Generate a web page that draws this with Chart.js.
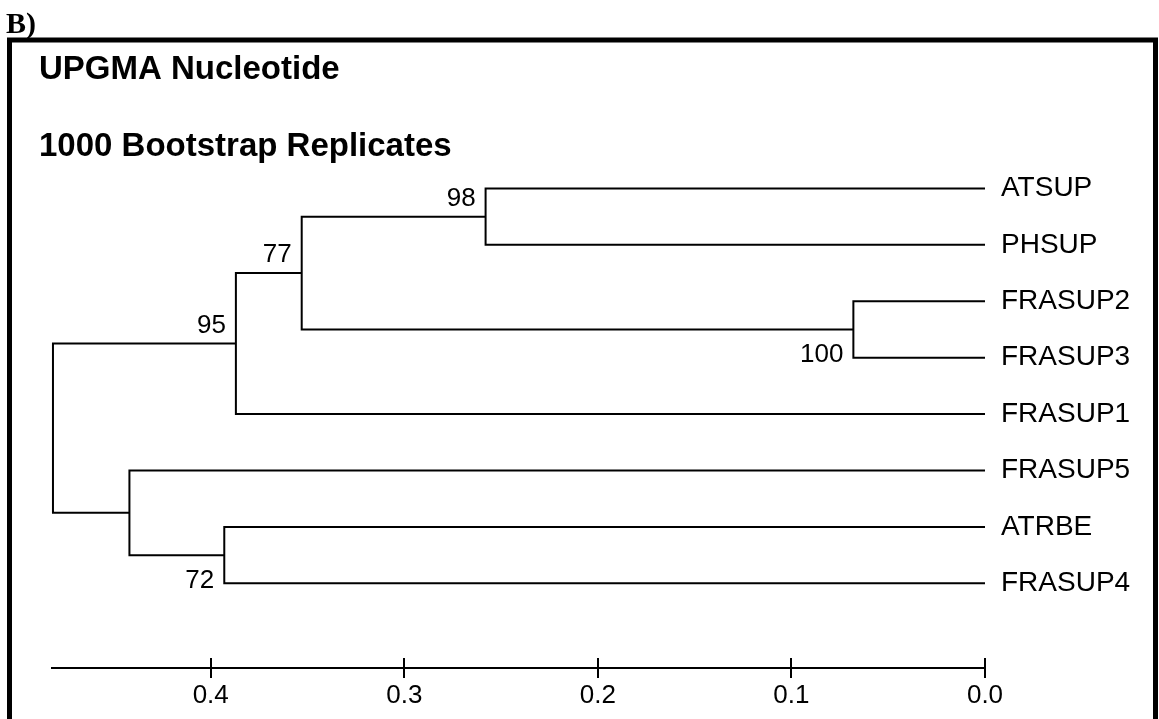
<!DOCTYPE html>
<html>
<head>
<meta charset="utf-8">
<title>UPGMA Nucleotide</title>
<script src="https://cdn.jsdelivr.net/npm/chart.js@4.4.1/dist/chart.umd.min.js"></script>
<style>
	html, body { margin: 0; padding: 0; background: #ffffff; }
	#canvas-wrap { width: 1159px; height: 719px; }
</style>
</head>
<body>
<div id="canvas-wrap"><canvas id="myChart" width="1159" height="719"></canvas></div>
<script>
// Feuilles de l'arbre (de haut en bas)
var leaves = ['ATSUP', 'PHSUP', 'FRASUP2', 'FRASUP3', 'FRASUP1', 'FRASUP5', 'ATRBE', 'FRASUP4'];

// Noeuds internes : indices des enfants (0..7 = feuilles, 8.. = noeuds internes)
var nodeChildren = [[0, 1], [2, 3], [8, 9], [10, 4], [6, 7], [5, 12], [11, 13]];

// Hauteur (distance) de chaque noeud interne
var nodeHeights = [0.258, 0.068, 0.353, 0.387, 0.393, 0.442, 0.4815];

// Valeurs de bootstrap (null = pas affichee)
var bootstrap = [98, 100, 77, 95, 72, null, null];

// Graduations de l'axe des distances
var tickValues = [0, 0.1, 0.2, 0.3, 0.4];

var titre = 'UPGMA Nucleotide';
var sousTitre = '1000 Bootstrap Replicates';
var panneau = 'B)';

//
// Position de chaque noeud : x = distance, y = rang
//
var posX = [];
var posY = [];
var parent = [];

leaves.forEach(function(nom, i) {
	posX[i] = 0;
	posY[i] = i;
});

nodeChildren.forEach(function(enfants, k) {
	var id = leaves.length + k;
	posX[id] = nodeHeights[k];
	posY[id] = (posY[enfants[0]] + posY[enfants[1]]) / 2;
	parent[enfants[0]] = {id: id, premier: true};
	parent[enfants[1]] = {id: id, premier: false};
});

// Un trace en "U" par noeud interne
var datasets = nodeChildren.map(function(enfants, k) {
	var id = leaves.length + k;
	var a = enfants[0], b = enfants[1];
	return {
		data: [
			{x: posX[a], y: posY[a]},
			{x: posX[id], y: posY[a]},
			{x: posX[id], y: posY[b]},
			{x: posX[b], y: posY[b]}
		],
		borderColor: '#000000',
		backgroundColor: '#000000',
		borderWidth: 2,
		pointRadius: 0,
		showLine: true,
		fill: false,
		tension: 0,
		clip: false
	};
});

var police = '"Liberation Sans", Arial, Helvetica, sans-serif';

var cadrePlugin = {
	id: 'cadre',
	beforeDraw: function(chart) {
		var ctx = chart.ctx;
		ctx.save();
		ctx.fillStyle = '#ffffff';
		ctx.fillRect(0, 0, chart.width, chart.height);

		// cadre
		ctx.strokeStyle = '#000000';
		ctx.lineWidth = 5;
		ctx.beginPath();
		ctx.moveTo(9.5, chart.height + 5);
		ctx.lineTo(9.5, 40);
		ctx.lineTo(1155.5, 40);
		ctx.lineTo(1155.5, chart.height + 5);
		ctx.stroke();

		// lettre du panneau
		ctx.fillStyle = '#000000';
		ctx.font = 'bold 30px "Liberation Serif", "Times New Roman", serif';
		ctx.textBaseline = 'alphabetic';
		ctx.textAlign = 'left';
		ctx.fillText(panneau, 6, 33);
		ctx.restore();
	},
	afterDraw: function(chart) {
		var ctx = chart.ctx;
		var sx = chart.scales.x;
		var sy = chart.scales.y;
		ctx.save();
		ctx.fillStyle = '#000000';

		// titres
		ctx.font = 'bold 33px ' + police;
		ctx.textAlign = 'left';
		ctx.textBaseline = 'alphabetic';
		ctx.fillText(titre, 39, 79);
		ctx.fillText(sousTitre, 39, 156);

		// moitie haute des graduations
		ctx.strokeStyle = '#000000';
		ctx.lineWidth = 2;
		sx.ticks.forEach(function(t) {
			var px = Math.round(sx.getPixelForValue(t.value));
			ctx.beginPath();
			ctx.moveTo(px, chart.chartArea.bottom - 10);
			ctx.lineTo(px, chart.chartArea.bottom);
			ctx.stroke();
		});

		// valeurs de bootstrap
		ctx.font = '26px ' + police;
		ctx.textAlign = 'right';
		nodeChildren.forEach(function(enfants, k) {
			if (bootstrap[k] === null) return;
			var id = leaves.length + k;
			var px = sx.getPixelForValue(posX[id]);
			var py = sy.getPixelForValue(posY[id]);
			var p = parent[id];
			if (p && p.premier) {
				ctx.fillText(String(bootstrap[k]), px - 10, py - 11);
			} else {
				ctx.fillText(String(bootstrap[k]), px - 10, py + 33);
			}
		});
		ctx.restore();
	}
};

var ctx = document.getElementById('myChart').getContext('2d');

var arbre = new Chart(ctx, {
	type: 'scatter',
	data: { datasets: datasets },
	options: {
		responsive: false,
		animation: false,
		devicePixelRatio: 1,
		layout: {
			padding: {left: 52, top: 132, right: 0, bottom: 0}
		},
		scales: {
			x: {
				type: 'linear',
				position: 'bottom',
				reverse: true,
				min: 0,
				max: 0.482,
				afterBuildTicks: function(axis) {
					axis.ticks = tickValues.map(function(v) { return {value: v}; });
				},
				afterFit: function(axis) {
					axis.height = 51;
				},
				grid: {
					display: true,
					drawOnChartArea: false,
					drawTicks: true,
					tickLength: 10,
					color: '#000000',
					lineWidth: 2
				},
				border: {
					display: true,
					color: '#000000',
					width: 2
				},
				ticks: {
					color: '#000000',
					padding: 2,
					maxRotation: 0,
					autoSkip: false,
					font: { family: police, size: 26 },
					callback: function(value) {
						return Number(value).toFixed(1);
					}
				}
			},
			y: {
				type: 'linear',
				position: 'right',
				reverse: true,
				min: -1,
				max: 8.5,
				afterBuildTicks: function(axis) {
					axis.ticks = leaves.map(function(nom, i) { return {value: i}; });
				},
				afterFit: function(axis) {
					axis.width = 174;
				},
				grid: { display: false },
				border: { display: false },
				ticks: {
					color: '#000000',
					padding: 8,
					autoSkip: false,
					font: { family: police, size: 28 },
					callback: function(value) {
						return leaves[value];
					}
				}
			}
		},
		plugins: {
			legend: { display: false },
			tooltip: { enabled: false },
			title: { display: false }
		}
	},
	plugins: [cadrePlugin]
});
</script>
</body>
</html>
